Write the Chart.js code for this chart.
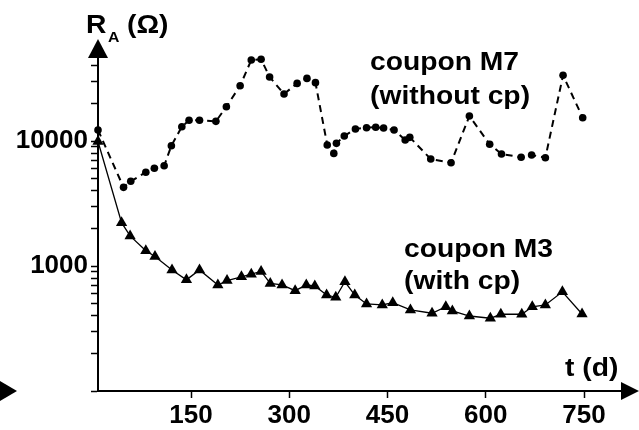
<!doctype html>
<html>
<head>
<meta charset="utf-8">
<title>Coupon resistance over time</title>
<script src="https://cdn.jsdelivr.net/npm/chart.js@4"></script>
<style>
  html, body { margin: 0; padding: 0; background: #fff; }
  canvas { display: block; }
</style>
</head>
<body>
<canvas id="chart" width="639" height="430"></canvas>
<script>
// coupon M7 (without cp): exposure time in days, resistance in ohm
const daysM7 = [8, 47, 58, 81, 94, 109, 120, 136, 147, 163, 188, 204, 225, 242, 257, 270, 292, 312, 327, 340,
  358, 368, 372, 384, 401, 418, 432, 444, 460, 477, 484, 516, 547, 575, 606, 624, 654, 670, 691, 718, 748]
const ohmM7 = [12250, 4260, 4760, 5620, 6050, 6340, 9170, 13000, 14640, 14640, 14370, 18800, 27700, 44500, 45100, 32500, 23800, 28900, 31700, 29300,
  9290, 7960, 9580, 10960, 12470, 12780, 12900, 12700, 12250, 10190, 10700, 7180, 6700, 15850, 9410, 7870, 7410, 7730, 7350, 33570, 15350]

// coupon M3 (with cp)
const daysM3 = [8, 44, 57, 81, 95, 121, 143, 163, 191, 205, 227, 242, 257, 271, 289, 309, 326, 339, 357, 371,
  385, 400, 418, 442, 458, 485, 518, 539, 549, 575, 607, 623, 655, 671, 691, 717, 747]
const ohmM3 = [9900, 2220, 1740, 1325, 1190, 930, 775, 930, 705, 765, 820, 860, 905, 725, 705, 635, 705, 692, 586, 562,
  748, 586, 497, 488, 508, 445, 419, 472, 437, 398, 382, 411, 411, 472, 488, 622, 413]

const xTicks = [150, 300, 450, 600, 750]
const yTicks = [100, 200, 300, 400, 500, 600, 700, 800, 900,
  1000, 2000, 3000, 4000, 5000, 6000, 7000, 8000, 9000,
  10000, 20000, 30000, 40000]
const yLabelled = [1000, 10000]

const FONT = '"Liberation Sans", Arial, sans-serif'

const toPoints = (xs, ys) => xs.map((x, i) => ({ x, y: ys[i] }))

function fillTri(ctx, pts) {
  ctx.beginPath()
  ctx.moveTo(pts[0][0], pts[0][1])
  ctx.lineTo(pts[1][0], pts[1][1])
  ctx.lineTo(pts[2][0], pts[2][1])
  ctx.closePath()
  ctx.fill()
}

// bold text, a little wider than the plain face
function label(ctx, text, x, y, size) {
  ctx.save()
  ctx.translate(x, y)
  ctx.scale(1.13, 1)
  ctx.font = 'bold ' + size + 'px ' + FONT
  ctx.fillText(text, 0, 0)
  ctx.restore()
}

const decorations = {
  id: 'decorations',
  afterDraw(chart) {
    const ctx = chart.ctx
    const { left, right, top, bottom } = chart.chartArea
    ctx.save()
    ctx.fillStyle = '#000'
    ctx.textBaseline = 'alphabetic'

    // axis arrow heads
    fillTri(ctx, [[left, top - 18], [left - 10, top + 1], [left + 10, top + 1]])
    fillTri(ctx, [[right + 17, bottom], [right - 1, bottom - 9], [right - 1, bottom + 9]])
    fillTri(ctx, [[17, bottom], [0, bottom - 10], [0, bottom + 10]])

    // axis titles
    label(ctx, 'R', 86, 33, 25)
    label(ctx, 'A', 108, 42, 14)
    label(ctx, '(Ω)', 127, 33, 25)
    label(ctx, 't (d)', 565, 376, 25)

    // series notes
    label(ctx, 'coupon M7', 370, 70, 25)
    label(ctx, '(without cp)', 370, 104, 25)
    label(ctx, 'coupon M3', 404, 257, 25)
    label(ctx, '(with cp)', 404, 289, 25)
    ctx.restore()
  }
}

new Chart(document.getElementById('chart'), {
  type: 'line',
  data: {
    datasets: [
      {
        label: 'coupon M7 (without cp)',
        data: toPoints(daysM7, ohmM7),
        borderColor: '#000',
        borderWidth: 2,
        borderDash: [7, 5],
        pointStyle: 'circle',
        pointRadius: 3.8,
        pointBackgroundColor: '#000',
        pointBorderWidth: 0,
        tension: 0,
        clip: false
      },
      {
        label: 'coupon M3 (with cp)',
        data: toPoints(daysM3, ohmM3),
        borderColor: '#000',
        borderWidth: 1.3,
        pointStyle: 'triangle',
        pointRadius: 6.5,
        pointBackgroundColor: '#000',
        pointBorderColor: '#000',
        pointBorderWidth: 0,
        tension: 0,
        clip: false
      }
    ]
  },
  options: {
    responsive: false,
    animation: false,
    layout: { padding: { top: 57, right: 17, left: 0, bottom: 0 } },
    plugins: {
      legend: { display: false },
      tooltip: { enabled: false }
    },
    scales: {
      x: {
        type: 'linear',
        min: 8,
        max: 808,
        afterBuildTicks(scale) {
          scale.ticks = xTicks.map((v) => ({ value: v }))
        },
        afterFit(scale) {
          scale.height = 39
        },
        border: { display: true, color: '#000', width: 2 },
        grid: {
          drawOnChartArea: false,
          drawTicks: true,
          tickLength: 7,
          tickWidth: 1.5,
          tickColor: '#000'
        },
        ticks: {
          color: '#000',
          padding: 2,
          maxRotation: 0,
          font: { family: FONT, size: 26, weight: 'bold' },
          callback: (v) => String(v)
        }
      },
      y: {
        type: 'logarithmic',
        min: 100,
        max: 47000,
        afterBuildTicks(scale) {
          scale.ticks = yTicks.map((v) => ({ value: v }))
        },
        afterFit(scale) {
          scale.width = 98
        },
        border: { display: true, color: '#000', width: 2 },
        grid: {
          drawOnChartArea: false,
          drawTicks: true,
          tickLength: 7,
          tickWidth: 1.5,
          tickColor: '#000'
        },
        ticks: {
          color: '#000',
          padding: 3,
          autoSkip: false,
          font: { family: FONT, size: 26, weight: 'bold' },
          callback: (v) => (yLabelled.includes(v) ? String(v) : '')
        }
      }
    }
  },
  plugins: [decorations]
})
</script>
</body>
</html>
